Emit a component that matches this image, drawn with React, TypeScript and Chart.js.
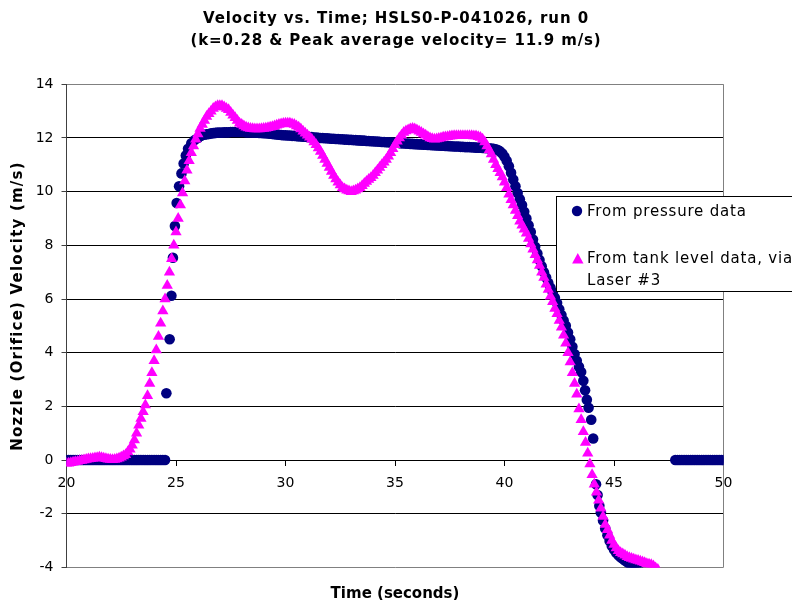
import React, { useEffect, useRef } from "react";
import { Chart, registerables } from "chart.js";

Chart.register(...registerables);

// ---- Text ----
const chartTitle = [
  "Velocity vs. Time; HSLS0-P-041026, run 0",
  "(k=0.28 & Peak average velocity= 11.9 m/s)",
];
const xAxisTitle = "Time (seconds)";
const yAxisTitle = "Nozzle (Orifice) Velocity (m/s)";
const pressureLabel = "From pressure data";
const tankLabel = "From tank level data, via Laser #3";
const tankLegendLines = ["From tank level data, via", "Laser #3"];

// ---- Axes ----
const xTicks = [20, 25, 30, 35, 40, 45, 50];
const yTicks = [-4, -2, 0, 2, 4, 6, 8, 10, 12, 14];

// ---- Pressure data (m/s) ----
// idle before the run, sampled every 0.1 s from 20.0 s
const pressureIdleBeforeStart = 20.0;
const pressureIdleBefore = [
  0, 0, 0, 0, 0, 0, 0, 0, 0, 0,
  0, 0, 0, 0, 0, 0, 0, 0, 0, 0,
  0, 0, 0, 0, 0, 0, 0, 0, 0, 0,
  0, 0, 0, 0, 0, 0, 0, 0, 0, 0,
  0, 0, 0, 0, 0,
];
// start-up [time, velocity]
const pressureRise: [number, number][] = [
  [24.5, 0], [24.56, 2.49], [24.71, 4.5], [24.79, 6.12], [24.86, 7.54], [24.95, 8.72],
  [25.03, 9.58], [25.14, 10.2], [25.25, 10.68], [25.35, 11.05], [25.45, 11.35],
  [25.55, 11.6], [25.7, 11.8], [25.85, 11.92], [26.0, 12.0], [26.15, 12.08],
];
// steady flow, every 0.1 s from 26.3 s
const pressurePlateauStart = 26.3;
const pressurePlateau = [
  12.12, 12.14, 12.15, 12.17, 12.18, 12.19, 12.2,
  12.2, 12.2, 12.21, 12.21, 12.21, 12.22, 12.22, 12.22, 12.22, 12.22,
  12.22, 12.22, 12.21, 12.21, 12.21, 12.2, 12.2, 12.2, 12.19, 12.19,
  12.18, 12.18, 12.17, 12.16, 12.15, 12.14, 12.13, 12.12, 12.11, 12.1,
  12.1, 12.09, 12.09, 12.08, 12.08, 12.07, 12.06, 12.06, 12.05, 12.05,
  12.04, 12.03, 12.03, 12.02, 12.02, 12.01, 12.0, 12.0, 11.99, 11.99,
  11.98, 11.97, 11.97, 11.96, 11.96, 11.95, 11.95, 11.94, 11.94, 11.93,
  11.93, 11.92, 11.92, 11.91, 11.91, 11.9, 11.9, 11.89, 11.89, 11.88,
  11.88, 11.87, 11.87, 11.86, 11.85, 11.85, 11.84, 11.84, 11.83, 11.83,
  11.82, 11.82, 11.81, 11.8, 11.8, 11.79, 11.79, 11.78, 11.78, 11.77,
  11.77, 11.76, 11.76, 11.75, 11.75, 11.74, 11.74, 11.73, 11.73, 11.72,
  11.72, 11.71, 11.71, 11.7, 11.7, 11.69, 11.69, 11.68, 11.68, 11.68,
  11.67, 11.67, 11.66, 11.66, 11.66, 11.65, 11.65, 11.64, 11.64, 11.64,
  11.63, 11.63, 11.62, 11.62, 11.61, 11.6, 11.58, 11.55,
];
// shut-down, every 0.1 s from 39.8 s
const pressureDropStart = 39.8;
const pressureDrop = [
  11.5, 11.42,
  11.3, 11.15, 10.95, 10.7, 10.45, 10.2, 9.95, 9.72, 9.5, 9.25,
  9.0, 8.75, 8.5, 8.22, 7.95, 7.7, 7.45, 7.22, 7.0, 6.8,
  6.6, 6.42, 6.25, 6.05, 5.85, 5.62, 5.4, 5.2, 5.0, 4.75,
  4.5, 4.22, 3.95, 3.7, 3.48, 3.28,
];
// end of shut-down [time, velocity]
const pressureTail: [number, number][] = [
  [43.6, 2.95], [43.68, 2.6], [43.76, 2.25], [43.84, 1.95], [43.96, 1.5],
  [44.05, 0.8], [44.18, -0.9], [44.25, -1.3], [44.33, -1.7], [44.4, -1.95],
  [44.5, -2.25], [44.6, -2.55], [44.7, -2.8], [44.8, -3.02], [44.9, -3.2],
  [45.0, -3.33], [45.1, -3.45], [45.2, -3.55], [45.3, -3.62], [45.4, -3.68],
  [45.5, -3.74], [45.6, -3.8], [45.7, -3.86], [45.8, -3.92], [45.9, -3.97],
  [46.0, -4.02], [46.1, -4.06],
];
// idle after the run, every 0.1 s from 47.8 s
const pressureIdleAfterStart = 47.8;
const pressureIdleAfter = [
  0, 0, 0, 0, 0, 0, 0, 0, 0, 0,
  0, 0, 0, 0, 0, 0, 0, 0, 0, 0,
  0, 0, 0,
];

// ---- Tank level data (m/s), every 0.1 s from 20.0 s ----
const tankStart = 20.0;
const tankStep = 0.1;
const tankVelocity = [
  -0.12, -0.12, -0.1, -0.08, -0.06, -0.05, -0.03, -0.02, 0.0, 0.02,
  0.04, 0.05, 0.06, 0.08, 0.09, 0.1, 0.09, 0.07, 0.05, 0.03,
  0.02, 0.01, 0.02, 0.04, 0.07, 0.1, 0.15, 0.2, 0.3, 0.4,
  0.55, 0.75, 1.0, 1.3, 1.55, 1.8, 2.05, 2.4, 2.85, 3.25,
  3.7, 4.1, 4.6, 5.1, 5.55, 6.0, 6.5, 7.0, 7.5, 8.0,
  8.5, 9.0, 9.5, 9.95, 10.4, 10.8, 11.15, 11.45, 11.7, 11.95,
  12.15, 12.35, 12.5, 12.65, 12.8, 12.9, 13.0, 13.1, 13.15, 13.2,
  13.2, 13.2, 13.15, 13.1, 13.05, 12.95, 12.85, 12.75, 12.65, 12.55,
  12.5, 12.45, 12.4, 12.37, 12.35, 12.34, 12.33, 12.33, 12.33, 12.34,
  12.35, 12.36, 12.38, 12.4, 12.42, 12.45, 12.47, 12.5, 12.52, 12.54,
  12.55, 12.55, 12.55, 12.52, 12.5, 12.45, 12.4, 12.33, 12.25, 12.18,
  12.1, 12.03, 11.95, 11.85, 11.75, 11.63, 11.5, 11.35, 11.2, 11.05,
  10.9, 10.75, 10.6, 10.47, 10.35, 10.25, 10.15, 10.1, 10.05, 10.02,
  10.0, 10.02, 10.05, 10.1, 10.15, 10.22, 10.3, 10.38, 10.45, 10.52,
  10.6, 10.7, 10.8, 10.9, 11.0, 11.1, 11.2, 11.32, 11.45, 11.6,
  11.75, 11.88, 12.0, 12.1, 12.2, 12.26, 12.3, 12.33, 12.35, 12.33,
  12.3, 12.25, 12.2, 12.15, 12.1, 12.05, 12.0, 11.97, 11.95, 11.96,
  11.98, 12.0, 12.03, 12.04, 12.05, 12.06, 12.07, 12.08, 12.08, 12.08,
  12.08, 12.08, 12.08, 12.08, 12.08, 12.08, 12.07, 12.07, 12.05, 12.02,
  11.95, 11.85, 11.7, 11.55, 11.4, 11.2, 11.0, 10.85, 10.7, 10.55,
  10.35, 10.15, 9.9, 9.7, 9.5, 9.3, 9.1, 8.9, 8.75, 8.6,
  8.45, 8.25, 8.05, 7.85, 7.65, 7.45, 7.25, 7.0, 6.8, 6.55,
  6.35, 6.1, 5.9, 5.65, 5.45, 5.2, 4.95, 4.65, 4.35, 4.0,
  3.65, 3.25, 2.85, 2.45, 1.9, 1.5, 1.05, 0.65, 0.25, -0.15,
  -0.55, -0.9, -1.2, -1.5, -1.8, -2.1, -2.4, -2.6, -2.8, -3.0,
  -3.15, -3.28, -3.38, -3.45, -3.5, -3.55, -3.6, -3.64, -3.67, -3.7,
  -3.72, -3.74, -3.77, -3.8, -3.83, -3.86, -3.88, -3.9, -3.95, -4.02,
  -4.08,
];

// ---- helpers to build point objects ----
type Pt = { x: number; y: number };
const sampled = (start: number, step: number, values: number[]): Pt[] =>
  values.map((v, i) => ({ x: Math.round((start + i * step) * 1000) / 1000, y: v }));
const pairs = (list: [number, number][]): Pt[] => list.map(([x, y]) => ({ x, y }));

const pressurePoints: Pt[] = [
  ...sampled(pressureIdleBeforeStart, 0.1, pressureIdleBefore),
  ...pairs(pressureRise),
  ...sampled(pressurePlateauStart, 0.1, pressurePlateau),
  ...sampled(pressureDropStart, 0.1, pressureDrop),
  ...pairs(pressureTail),
  ...sampled(pressureIdleAfterStart, 0.1, pressureIdleAfter),
];
const tankPoints: Pt[] = sampled(tankStart, tankStep, tankVelocity);

const NAVY = "#000080";
const PINK = "#FF00FF";

const decorPlugin = {
  id: "decor",
  beforeDatasetsDraw(chart: any) {
    const { ctx, chartArea: a } = chart;
    ctx.save();
    ctx.strokeStyle = "#808080";
    ctx.lineWidth = 1;
    const x = Math.round(a.right - 0.5) + 0.5;
    ctx.beginPath();
    ctx.moveTo(x, a.top);
    ctx.lineTo(x, a.bottom);
    ctx.stroke();
    ctx.restore();
  },
  afterDraw(chart: any) {
    const { ctx, chartArea: a, width } = chart;
    ctx.save();
    ctx.fillStyle = "#000";
    // main title
    ctx.textAlign = "center";
    ctx.textBaseline = "alphabetic";
    ctx.font = "bold 15px 'DejaVu Sans'";
    (ctx as any).letterSpacing = "0.9px";
    ctx.fillText(chartTitle[0], width / 2, 23);
    ctx.fillText(chartTitle[1], width / 2, 45);
    // x title
    (ctx as any).letterSpacing = "0px";
    ctx.font = "bold 15px 'DejaVu Sans'";
    ctx.fillText(xAxisTitle, (a.left + a.right) / 2, 598);
    // y title
    ctx.save();
    ctx.translate(18, 306);
    ctx.rotate(-Math.PI / 2);
    ctx.textBaseline = "middle";
    (ctx as any).letterSpacing = "1.2px";
    ctx.fillText(yAxisTitle, 0, 0);
    ctx.restore();

    // legend
    (ctx as any).letterSpacing = "0px";
    ctx.fillStyle = "#fff";
    ctx.fillRect(557, 197, 260, 95);
    ctx.strokeStyle = "#000";
    ctx.lineWidth = 1;
    ctx.strokeRect(556.5, 196.5, 260, 95);
    ctx.fillStyle = NAVY;
    ctx.beginPath();
    ctx.arc(577, 211, 5.2, 0, Math.PI * 2);
    ctx.fill();
    ctx.fillStyle = PINK;
    ctx.beginPath();
    ctx.moveTo(577.8, 253);
    ctx.lineTo(583.5, 263.5);
    ctx.lineTo(572.1, 263.5);
    ctx.closePath();
    ctx.fill();
    ctx.fillStyle = "#000";
    ctx.textAlign = "left";
    ctx.textBaseline = "alphabetic";
    ctx.font = "15px 'DejaVu Sans'";
    (ctx as any).letterSpacing = "0.8px";
    ctx.fillText(pressureLabel, 587, 216);
    ctx.fillText(tankLegendLines[0], 587, 263);
    ctx.fillText(tankLegendLines[1], 587, 284.5);
    ctx.restore();
  },
};

export default function App() {
  const ref = useRef<HTMLCanvasElement>(null);
  useEffect(() => {
    document.body.style.margin = "0";
    const yMin = yTicks[0];
    const yMax = yTicks[yTicks.length - 1];
    const chart = new Chart(ref.current as HTMLCanvasElement, {
      type: "scatter",
      data: {
        datasets: [
          {
            label: pressureLabel,
            data: pressurePoints,
            pointStyle: "circle",
            pointRadius: 5.3,
            pointHoverRadius: 5.3,
            pointBackgroundColor: NAVY,
            pointBorderColor: NAVY,
            pointBorderWidth: 0,
            backgroundColor: NAVY,
            borderColor: NAVY,
            order: 2,
          } as any,
          {
            label: tankLabel,
            data: tankPoints,
            pointStyle: "triangle",
            pointRadius: 6.5,
            pointHoverRadius: 6.5,
            pointBackgroundColor: PINK,
            pointBorderColor: PINK,
            pointBorderWidth: 0,
            backgroundColor: PINK,
            borderColor: PINK,
            order: 1,
          } as any,
        ],
      },
      options: {
        responsive: false,
        animation: false,
        devicePixelRatio: 1,
        events: [],
        layout: { padding: { left: 0, right: 68.5, top: 84.3, bottom: 32.6 } },
        plugins: {
          legend: { display: false },
          tooltip: { enabled: false },
          title: { display: false },
        },
        scales: {
          x: {
            type: "linear",
            position: { y: 0 } as any,
            min: xTicks[0],
            max: xTicks[xTicks.length - 1],
            ticks: {
              stepSize: xTicks[1] - xTicks[0],
              font: { family: "'DejaVu Sans'", size: 14 },
              color: "#000",
              padding: 10,
              maxRotation: 0,
            },
            grid: {
              drawOnChartArea: false,
              drawTicks: true,
              tickLength: 5,
              tickColor: "#000",
              color: "#000",
            },
            border: { display: true, color: "#000", width: 1 },
            title: { display: false },
          },
          y: {
            type: "linear",
            position: "left",
            min: yMin,
            max: yMax,
            afterFit: (scale: any) => {
              scale.width = 66.5;
            },
            ticks: {
              stepSize: yTicks[1] - yTicks[0],
              font: { family: "'DejaVu Sans'", size: 14 },
              color: "#000",
              padding: 8,
            },
            grid: {
              drawTicks: true,
              tickLength: 5,
              tickColor: "#404040",
              color: (c: any) =>
                c.tick && (c.tick.value === yMax || c.tick.value === yMin) ? "#808080" : "#000000",
            },
            border: { display: true, color: "#404040", width: 1 },
            title: { display: false },
          },
        },
      },
      plugins: [decorPlugin],
    });
    return () => chart.destroy();
  }, []);
  return (
    <div style={{ width: 792, height: 600, position: "relative" }}>
      <canvas ref={ref} width={792} height={600} style={{ display: "block" }} />
    </div>
  );
}
